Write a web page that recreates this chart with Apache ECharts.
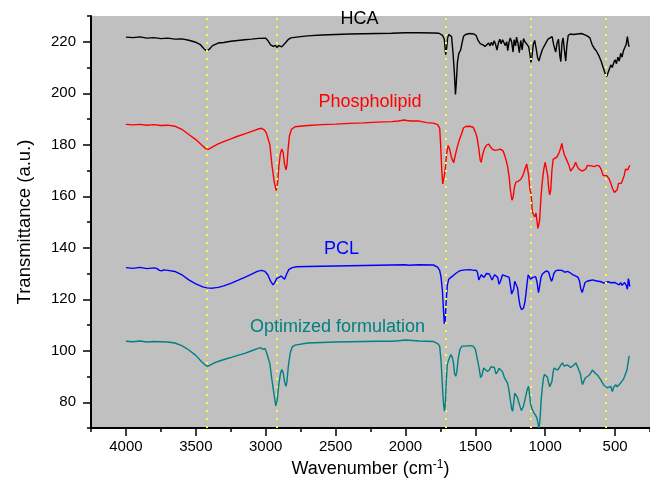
<!DOCTYPE html>
<html><head><meta charset="utf-8">
<script src="https://cdn.jsdelivr.net/npm/echarts@6/dist/echarts.min.js"></script>
<style>html,body{margin:0;padding:0;background:#fff}#chart{width:650px;height:491px}</style>
</head><body><div id="chart"></div>
<script>
// ---- tick labels ----
const xTickValues = [500, 1000, 1500, 2000, 2500, 3000, 3500, 4000];
const yTickValues = [80, 100, 120, 140, 160, 180, 200, 220];
// ---- reference (dotted) wavenumbers ----
const markerWavenumbers = [3420, 2920, 1710, 1100, 570];
// ---- series names ----
const seriesNames = ['HCA', 'Phospholipid', 'PCL', 'Optimized formulation'];
// ---- series values: [wavenumber, transmittance] ----
const hcaValues = [
[4000,221.8],[3950,221.6],[3900,221.9],[3850,221.4],[3800,221.6],[3750,221.2],[3700,221.4],[3650,221.0],[3600,221.1],[3550,220.6],
[3500,219.8],[3470,219.0],[3440,217.2],[3424,216.4],[3405,217.0],[3380,218.5],[3340,219.5],[3300,219.7],[3250,220.2],[3200,220.5],
[3150,220.8],[3100,221.0],[3050,221.3],[3000,221.4],[2985,220.5],[2965,218.8],[2945,218.2],[2930,218.6],[2920,217.8],[2905,218.5],
[2885,218.0],[2860,219.5],[2840,220.8],[2820,221.5],[2750,222.0],[2700,222.3],[2600,222.6],[2500,222.8],[2400,223.0],[2300,223.1],
[2200,223.2],[2100,223.3],[2000,223.5],[1900,223.5],[1800,223.4],[1760,223.3],[1735,222.5],[1722,221.0],[1712,215.0],[1705,217.5],
[1698,221.5],[1690,222.8],[1680,223.0],[1670,222.0],[1660,216.0],[1650,208.0],[1642,199.5],[1636,204.0],[1628,212.0],[1618,215.5],
[1605,216.8],[1595,219.5],[1585,222.0],[1570,222.8],[1540,223.2],[1510,223.0],[1495,222.5],[1480,220.5],[1465,219.3],[1455,219.8],
[1445,218.8],[1430,218.2],[1420,218.8],[1405,219.5],[1395,218.4],[1385,219.8],[1375,218.6],[1365,220.4],[1355,219.0],[1345,216.8],
[1335,219.5],[1325,221.0],[1315,219.2],[1305,220.8],[1295,221.5],[1285,218.5],[1275,220.0],[1268,216.5],[1260,219.5],[1250,221.5],
[1240,220.0],[1230,216.0],[1222,220.8],[1212,218.4],[1205,221.8],[1195,219.5],[1185,215.8],[1175,220.5],[1165,216.8],[1155,221.2],
[1145,220.0],[1130,219.0],[1118,218.0],[1108,214.8],[1102,212.0],[1095,214.0],[1085,219.0],[1075,220.5],[1065,217.5],[1055,214.0],
[1045,212.5],[1035,214.5],[1020,217.0],[1005,218.5],[995,219.5],[980,221.0],[965,221.5],[950,222.0],[940,219.0],[925,216.0],
[915,219.5],[905,221.0],[895,214.5],[888,212.3],[880,219.5],[872,221.5],[862,216.5],[853,212.5],[845,218.5],[835,222.5],
[820,223.0],[800,222.8],[770,223.0],[740,223.2],[720,222.8],[700,222.3],[680,221.5],[665,219.0],[650,217.5],[635,216.5],
[615,214.5],[600,212.5],[585,210.0],[570,207.5],[560,206.5],[552,207.0],[540,209.5],[530,211.0],[520,210.0],[510,211.8],
[500,213.0],[490,211.5],[480,214.0],[470,212.5],[460,215.5],[450,214.0],[440,216.5],[430,217.0],[420,219.0],[412,222.0],
[405,219.5],[400,218.0]
];
const phospholipidValues = [
[4000,187.9],[3950,187.7],[3900,187.9],[3850,187.6],[3800,187.8],[3750,187.5],[3700,187.6],[3650,187.2],[3600,186.0],[3550,184.0],
[3500,182.0],[3460,180.0],[3430,178.5],[3410,178.2],[3380,179.2],[3340,180.3],[3300,181.2],[3250,182.3],[3200,183.3],[3150,184.2],
[3100,185.2],[3060,186.0],[3030,186.4],[3010,185.8],[2995,184.5],[2985,184.8],[2970,180.0],[2955,172.0],[2940,166.0],[2925,162.2],
[2915,165.0],[2905,172.0],[2895,176.5],[2885,178.3],[2875,177.0],[2865,172.5],[2855,170.3],[2848,172.0],[2840,178.0],[2830,183.5],
[2815,186.0],[2790,187.0],[2700,187.5],[2600,187.8],[2500,188.0],[2400,188.3],[2300,188.5],[2200,188.8],[2100,189.0],[2050,189.2],
[2010,189.6],[2000,190.3],[1990,189.4],[1960,189.2],[1900,189.2],[1850,188.6],[1800,188.4],[1770,187.8],[1755,186.5],[1748,180.0],
[1740,170.0],[1733,164.8],[1725,167.0],[1716,170.0],[1705,176.5],[1695,179.7],[1685,178.5],[1670,175.0],[1655,173.0],[1645,175.5],
[1630,179.0],[1615,181.8],[1600,184.0],[1585,186.5],[1570,187.1],[1540,187.2],[1515,186.8],[1500,185.0],[1488,183.0],[1475,178.5],
[1465,174.0],[1458,173.2],[1448,176.0],[1435,178.5],[1420,179.8],[1405,180.3],[1390,179.0],[1375,178.2],[1360,177.8],[1340,178.0],
[1320,178.3],[1300,177.5],[1285,175.0],[1270,172.0],[1258,167.5],[1248,162.0],[1238,158.5],[1230,159.5],[1220,163.5],[1210,165.5],
[1195,165.8],[1175,166.5],[1160,168.0],[1145,170.5],[1132,172.5],[1125,172.0],[1118,168.0],[1110,163.0],[1100,160.5],[1092,154.0],
[1085,153.0],[1075,152.0],[1066,153.5],[1060,151.0],[1052,147.5],[1046,147.0],[1040,150.5],[1030,160.0],[1020,166.0],[1010,170.5],
[1000,173.2],[990,172.5],[982,168.0],[975,163.0],[968,160.5],[960,162.5],[952,170.0],[943,174.3],[930,173.8],[915,175.3],
[900,177.0],[890,178.5],[881,180.5],[872,178.0],[862,176.0],[852,174.8],[842,175.5],[830,172.0],[818,169.8],[805,170.5],
[795,171.5],[782,173.2],[770,171.5],[758,170.5],[745,170.8],[735,169.8],[722,169.5],[710,170.5],[698,172.0],[686,172.0],
[670,171.8],[650,171.5],[630,172.0],[614,171.8],[600,170.5],[585,168.0],[575,167.5],[560,168.0],[543,166.8],[530,165.0],
[518,163.0],[505,161.5],[495,161.0],[485,162.5],[475,165.0],[465,165.5],[455,165.0],[445,166.5],[435,168.0],[425,170.5],
[415,171.0],[408,170.3],[400,171.5],[393,172.0]
];
const pclValues = [
[4000,132.3],[3950,132.0],[3900,132.4],[3850,131.9],[3800,132.2],[3780,132.0],[3760,131.2],[3745,131.0],[3730,131.4],[3700,131.2],
[3650,130.8],[3600,129.5],[3550,127.5],[3500,126.0],[3450,124.8],[3420,124.4],[3380,124.3],[3340,124.6],[3300,125.2],[3250,126.2],
[3200,127.3],[3150,128.5],[3100,129.8],[3060,130.8],[3030,131.2],[3005,130.8],[2985,129.5],[2965,127.0],[2948,125.6],[2935,126.5],
[2922,128.0],[2905,128.5],[2890,129.0],[2878,128.4],[2865,127.8],[2850,129.8],[2835,131.5],[2810,132.3],[2780,132.6],[2700,132.7],
[2600,132.8],[2500,132.9],[2400,133.0],[2300,133.1],[2200,133.2],[2100,133.3],[2000,133.4],[1990,133.9],[1980,133.2],[1900,133.4],
[1800,133.3],[1770,132.5],[1755,131.2],[1745,128.5],[1735,123.0],[1727,115.0],[1722,110.5],[1716,111.5],[1710,118.0],[1700,125.5],
[1690,127.8],[1675,128.5],[1660,129.1],[1640,130.0],[1620,130.8],[1600,131.2],[1570,131.4],[1540,131.5],[1510,131.2],[1495,131.3],
[1485,130.5],[1475,127.5],[1468,127.0],[1458,129.5],[1448,130.0],[1438,128.5],[1428,128.0],[1420,130.0],[1410,130.3],[1400,129.8],
[1390,130.5],[1380,127.5],[1372,126.8],[1362,129.5],[1350,130.2],[1340,128.5],[1330,125.8],[1320,127.0],[1305,129.5],[1295,130.0],
[1280,129.0],[1268,129.6],[1258,128.5],[1248,125.0],[1240,122.0],[1233,121.3],[1225,124.0],[1218,127.0],[1208,127.0],[1198,124.5],
[1188,120.0],[1180,117.5],[1170,116.0],[1162,115.7],[1155,116.5],[1145,119.0],[1138,122.0],[1130,126.0],[1122,129.5],[1115,129.0],
[1105,127.8],[1097,127.5],[1088,128.5],[1078,128.0],[1068,128.8],[1058,126.5],[1048,122.6],[1040,125.0],[1030,128.5],[1020,129.8],
[1005,130.5],[990,131.0],[975,130.5],[965,128.5],[955,127.0],[948,127.8],[938,130.0],[925,131.0],[910,131.3],[900,131.5],
[880,131.2],[860,130.5],[840,130.8],[820,130.2],[800,129.5],[780,129.0],[765,128.5],[755,127.2],[745,124.0],[735,122.6],
[725,124.5],[715,126.5],[700,127.0],[680,127.3],[660,127.5],[640,127.2],[620,127.0],[600,126.8],[580,126.3],[567,126.5],
[550,126.8],[530,126.4],[518,126.3],[500,126.5],[485,126.0],[470,125.6],[460,126.5],[450,125.4],[440,125.0],[432,126.5],
[424,126.8],[418,125.2],[412,123.9],[408,126.0],[405,128.0],[400,127.0],[396,125.0],[393,125.5]
];
const optimizedValues = [
[4000,103.7],[3950,103.5],[3900,103.8],[3850,103.4],[3800,103.6],[3750,103.5],[3700,103.4],[3650,103.0],[3600,102.0],[3550,100.3],
[3500,98.2],[3460,95.8],[3430,94.3],[3415,93.9],[3395,94.5],[3360,95.5],[3320,96.2],[3280,96.9],[3240,97.5],[3200,98.2],
[3150,99.0],[3100,100.0],[3060,100.8],[3035,101.2],[3020,100.5],[3005,100.9],[2995,99.5],[2985,99.8],[2970,95.0],[2955,88.5],
[2940,83.0],[2928,78.6],[2918,80.5],[2908,86.0],[2895,91.0],[2885,92.7],[2875,91.5],[2865,88.0],[2855,86.2],[2848,88.0],
[2838,94.0],[2825,99.0],[2810,101.5],[2790,102.2],[2700,103.0],[2600,103.2],[2500,103.4],[2400,103.5],[2300,103.6],[2200,103.7],
[2100,103.7],[2050,103.9],[2000,104.2],[1990,103.6],[1900,103.8],[1800,103.6],[1770,102.8],[1755,101.8],[1745,96.0],[1738,89.0],
[1732,83.0],[1726,78.5],[1720,76.5],[1714,80.0],[1708,88.0],[1700,94.8],[1690,96.5],[1675,98.5],[1665,97.5],[1657,95.5],
[1648,91.0],[1640,90.1],[1632,92.0],[1622,97.0],[1610,100.5],[1595,101.8],[1570,101.8],[1540,102.0],[1515,101.8],[1500,100.5],
[1490,98.0],[1483,97.3],[1472,93.0],[1462,89.6],[1452,90.5],[1440,93.3],[1428,93.0],[1415,92.0],[1400,92.5],[1388,93.8],
[1375,94.0],[1364,93.5],[1352,91.0],[1341,91.8],[1330,93.2],[1317,93.5],[1305,91.8],[1292,89.6],[1281,89.6],[1270,87.5],
[1260,85.0],[1250,81.0],[1240,77.5],[1233,76.5],[1225,80.0],[1218,83.5],[1210,84.2],[1200,82.0],[1192,80.5],[1186,80.4],
[1178,78.0],[1170,76.8],[1162,76.5],[1155,78.5],[1145,81.0],[1138,81.6],[1128,85.0],[1119,86.2],[1112,83.0],[1105,79.5],
[1100,79.1],[1092,77.0],[1085,76.5],[1079,75.8],[1070,75.0],[1060,74.0],[1052,72.0],[1046,70.0],[1040,71.5],[1035,75.0],
[1028,81.5],[1020,86.0],[1012,89.5],[1005,90.8],[995,90.5],[985,89.8],[975,87.5],[968,86.0],[960,85.6],[952,88.0],
[944,91.5],[936,93.3],[925,93.0],[912,92.5],[900,93.3],[888,94.5],[876,95.3],[864,94.0],[852,93.5],[840,94.5],
[829,94.8],[818,93.5],[805,93.5],[793,94.5],[781,95.3],[770,94.0],[757,93.5],[748,91.0],[740,88.5],[733,86.9],
[725,88.0],[712,89.5],[698,90.0],[685,90.5],[672,91.5],[662,92.5],[650,92.0],[640,91.2],[625,90.5],[614,90.1],
[600,88.5],[590,87.5],[579,86.5],[567,86.0],[555,85.6],[545,86.0],[531,86.2],[525,85.0],[519,84.2],[510,85.8],
[500,86.5],[495,86.8],[485,86.0],[478,85.8],[471,86.0],[460,87.5],[448,87.8],[440,89.0],[432,90.0],[424,90.5],
[415,92.5],[408,95.0],[402,97.0],[398,98.0]
];
const allValues = [hcaValues, phospholipidValues, pclValues, optimizedValues];

// ---- styling / layout (not data) ----
const FONT = '"Liberation Sans", Arial, sans-serif';
const lineColors = ['#000000', '#ff0000', '#0000ff', '#008080'];
const labelAnchors = [[2329, 228.8], [2254, 196.5], [2457, 139.4], [2486, 109.4]];

const chart = echarts.init(document.getElementById('chart'), null, {renderer: 'canvas'});
const axisBlack = {color: '#000', width: 2};
const plain = v => String(v);

const series = allValues.map((vals, i) => ({
  name: seriesNames[i],
  type: 'line',
  data: vals,
  showSymbol: false,
  symbol: 'none',
  smooth: false,
  lineStyle: {color: lineColors[i], width: 1.4},
  z: 2 + i
}));
series.push({
  name: 'markers',
  type: 'line',
  data: [],
  symbol: 'none',
  z: 10,
  markLine: {
    silent: true,
    symbol: ['none', 'none'],
    label: {show: false},
    animation: false,
    lineStyle: {color: '#ffff33', type: [2, 6], width: 2},
    data: markerWavenumbers.map(v => ({xAxis: v}))
  }
});

chart.setOption({
  animation: false,
  backgroundColor: '#ffffff',
  grid: {left: 91, right: 0, top: 16, bottom: 63, show: true, backgroundColor: '#c0c0c0', borderWidth: 0},
  xAxis: [
    {
      type: 'value', min: 250, max: 4250, inverse: true, position: 'bottom',
      axisLine: {show: true, onZero: false, lineStyle: axisBlack},
      axisTick: {show: true, customValues: xTickValues, length: 8, lineStyle: {color: '#000', width: 1.5}},
      axisLabel: {customValues: xTickValues, formatter: plain, margin: 11, fontSize: 15, color: '#000', fontFamily: FONT},
      splitLine: {show: false},
      name: 'Wavenumber (cm{sup|-1})', nameLocation: 'middle', nameGap: 30,
      nameTextStyle: {fontSize: 18, color: '#000', fontFamily: FONT,
        rich: {sup: {fontSize: 12, color: '#000', fontFamily: FONT, verticalAlign: 'bottom', padding: [0, 0, 9, 0]}}}
    },
    {
      type: 'value', min: 250, max: 4250, interval: 250, inverse: true, position: 'bottom',
      axisLine: {show: false},
      axisTick: {show: true, length: 4, lineStyle: {color: '#000', width: 1.5}},
      axisLabel: {show: false}, splitLine: {show: false}
    }
  ],
  yAxis: [
    {
      type: 'value', min: 70, max: 230, position: 'left',
      axisLine: {show: true, onZero: false, lineStyle: axisBlack},
      axisTick: {show: true, customValues: yTickValues, length: 8, lineStyle: {color: '#000', width: 1.5}},
      axisLabel: {customValues: yTickValues, formatter: plain, margin: 15, fontSize: 15, color: '#000', fontFamily: FONT},
      splitLine: {show: false},
      name: 'Transmittance (a.u.)', nameLocation: 'middle', nameGap: 57,
      nameTextStyle: {fontSize: 18.5, color: '#000', fontFamily: FONT}
    },
    {
      type: 'value', min: 70, max: 230, interval: 10, position: 'left',
      axisLine: {show: false},
      axisTick: {show: true, length: 4, lineStyle: {color: '#000', width: 1.5}},
      axisLabel: {show: false}, splitLine: {show: false}
    }
  ],
  series: series
});

const graphics = labelAnchors.map((a, i) => {
  const p = chart.convertToPixel({xAxisIndex: 0, yAxisIndex: 0}, a);
  return {
    type: 'text', x: p[0], y: p[1], z: 20,
    style: {text: seriesNames[i], fill: lineColors[i], font: '18px ' + FONT, textAlign: 'center', textVerticalAlign: 'middle'}
  };
});
chart.setOption({graphic: graphics});
</script>
</body></html>
